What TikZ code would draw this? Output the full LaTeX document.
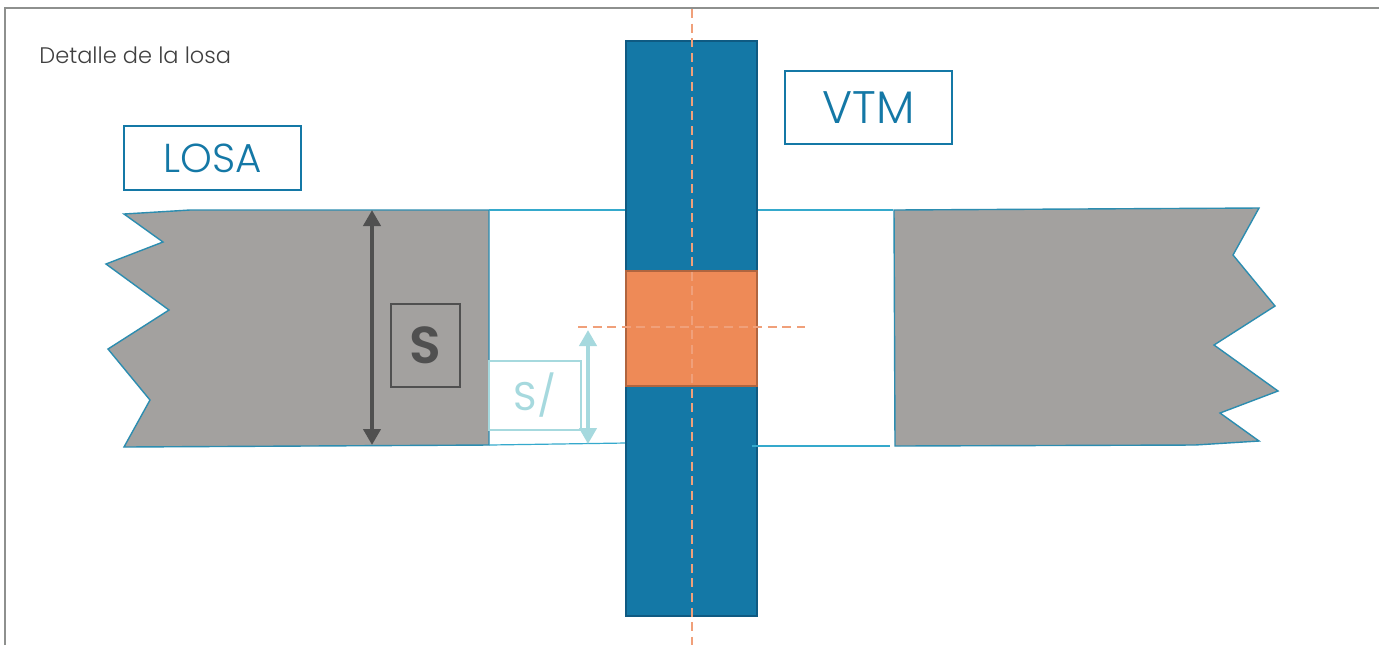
\documentclass[tikz,border=0pt]{standalone}
\usepackage{fontspec}
\setmainfont{Poppins}[UprightFont=* Light,BoldFont=* SemiBold]
\newfontfamily\regfont{Poppins}
\usetikzlibrary{arrows.meta}
\definecolor{bluecol}{HTML}{1478A6}
\definecolor{bluedark}{HTML}{0F5A82}
\definecolor{orangefill}{HTML}{EE8A57}
\definecolor{orangeedge}{HTML}{B0653F}
\definecolor{orangedash}{HTML}{F0A07A}
\definecolor{slabgrey}{HTML}{A3A19F}
\definecolor{slabedge}{HTML}{2C8DB0}
\definecolor{paledim}{HTML}{A6D9DE}
\definecolor{darkdim}{HTML}{505050}
\definecolor{framegrey}{HTML}{8E908E}
\definecolor{thinline}{HTML}{35A9CC}
\tikzset{
  slab/.style={fill=slabgrey,draw=slabedge,line width=0.7pt,line join=miter},
  thinedge/.style={draw=thinline,line width=0.6pt},
  labelbox/.style={draw=bluecol,line width=0.7pt,text=bluecol,inner sep=0pt},
  dimarrow/.style={line width=2.2pt,{Triangle[length=8pt,width=8.5pt]}-{Triangle[length=8pt,width=8.5pt]}},
  axis/.style={orangedash,line width=0.9pt,dash pattern=on 4.5pt off 2.8pt},
}
\begin{document}
\begin{tikzpicture}[x=0.5pt,y=-0.5pt]
\useasboundingbox (0,0) rectangle (1379,645);
\fill[white] (0,0) rectangle (1379,645);
\draw[framegrey,line width=0.7pt] (5,645) -- (5,8) -- (1379,8);
\node[anchor=west,text=black!75,font=\fontsize{11.25}{14}\selectfont,inner sep=0pt] (title) at (39,55) {Detalle de la losa};
% slabs
\draw[slab] (124,214) -- (190,210) -- (489,210) -- (489,445) -- (124,447) -- (150,400) -- (108,349) -- (169,310) -- (106,264) -- (163,242) -- cycle;
\draw[slab] (894,210) -- (1259,208) -- (1233,255) -- (1275,306) -- (1214,345) -- (1278,391) -- (1220,413) -- (1259,441) -- (1195,445) -- (895,446) -- cycle;
% thin slab edges
\coordinate (tl) at (489,210); \coordinate (tlc) at (626,210);
\coordinate (tr) at (757,210); \coordinate (trs) at (893,210);
\coordinate (bl) at (489,445); \coordinate (blc) at (626,443);
\coordinate (br) at (752,446); \coordinate (brs) at (890,446);
\draw[thinedge] (tl) -- (tlc);
\draw[thinedge] (tr) -- (trs);
\draw[thinedge] (bl) -- (blc);
% column
\node[fill=bluecol,draw=bluedark,line width=1.3pt,minimum width=65.5pt,minimum height=287.5pt,inner sep=0pt] (column) at (691.5,328.5) {};
\draw[thinedge] (br) -- (brs);
\node[fill=orangefill,draw=orangeedge,line width=1.4pt,minimum width=65.5pt,minimum height=57.5pt,inner sep=0pt] (joint) at (691.5,328.5) {};
% axes
\coordinate (axT) at (692,9); \coordinate (axB) at (692,645);
\coordinate (axL) at (578,327); \coordinate (axR) at (805,327);
\draw[axis] (axT) -- (axB);
\draw[axis] (axL) -- (axR);
% labels
\node[labelbox,font=\fontsize{20.2}{24}\selectfont,minimum width=88.5pt,minimum height=32pt] (losa) at (212.5,158) {LOSA};
\node[labelbox,font=\fontsize{22.8}{26}\selectfont,minimum width=83.5pt,minimum height=36.5pt] (vtm) at (868.5,107.5) {VTM};
% s dimension
\coordinate (sT) at (372,210); \coordinate (sB) at (372,445);
\draw[dimarrow,darkdim] (sT) -- (sB);
\node[draw=darkdim,line width=0.6pt,text=darkdim,font=\fontsize{26}{30}\bfseries,minimum width=34.5pt,minimum height=41.5pt,inner sep=0pt] (s) at (425.5,345.5) {S};
% s/ dimension
\node[draw=paledim,line width=0.9pt,text=paledim,font=\regfont\fontsize{20}{24}\selectfont,fill=white,minimum width=46pt,minimum height=34.5pt,inner sep=0pt] (half) at (535,395.5) {S/};
\coordinate (hT) at (588,330); \coordinate (hB) at (588,444);
\draw[dimarrow,paledim] (hT) -- (hB);
\end{tikzpicture}
\end{document}
